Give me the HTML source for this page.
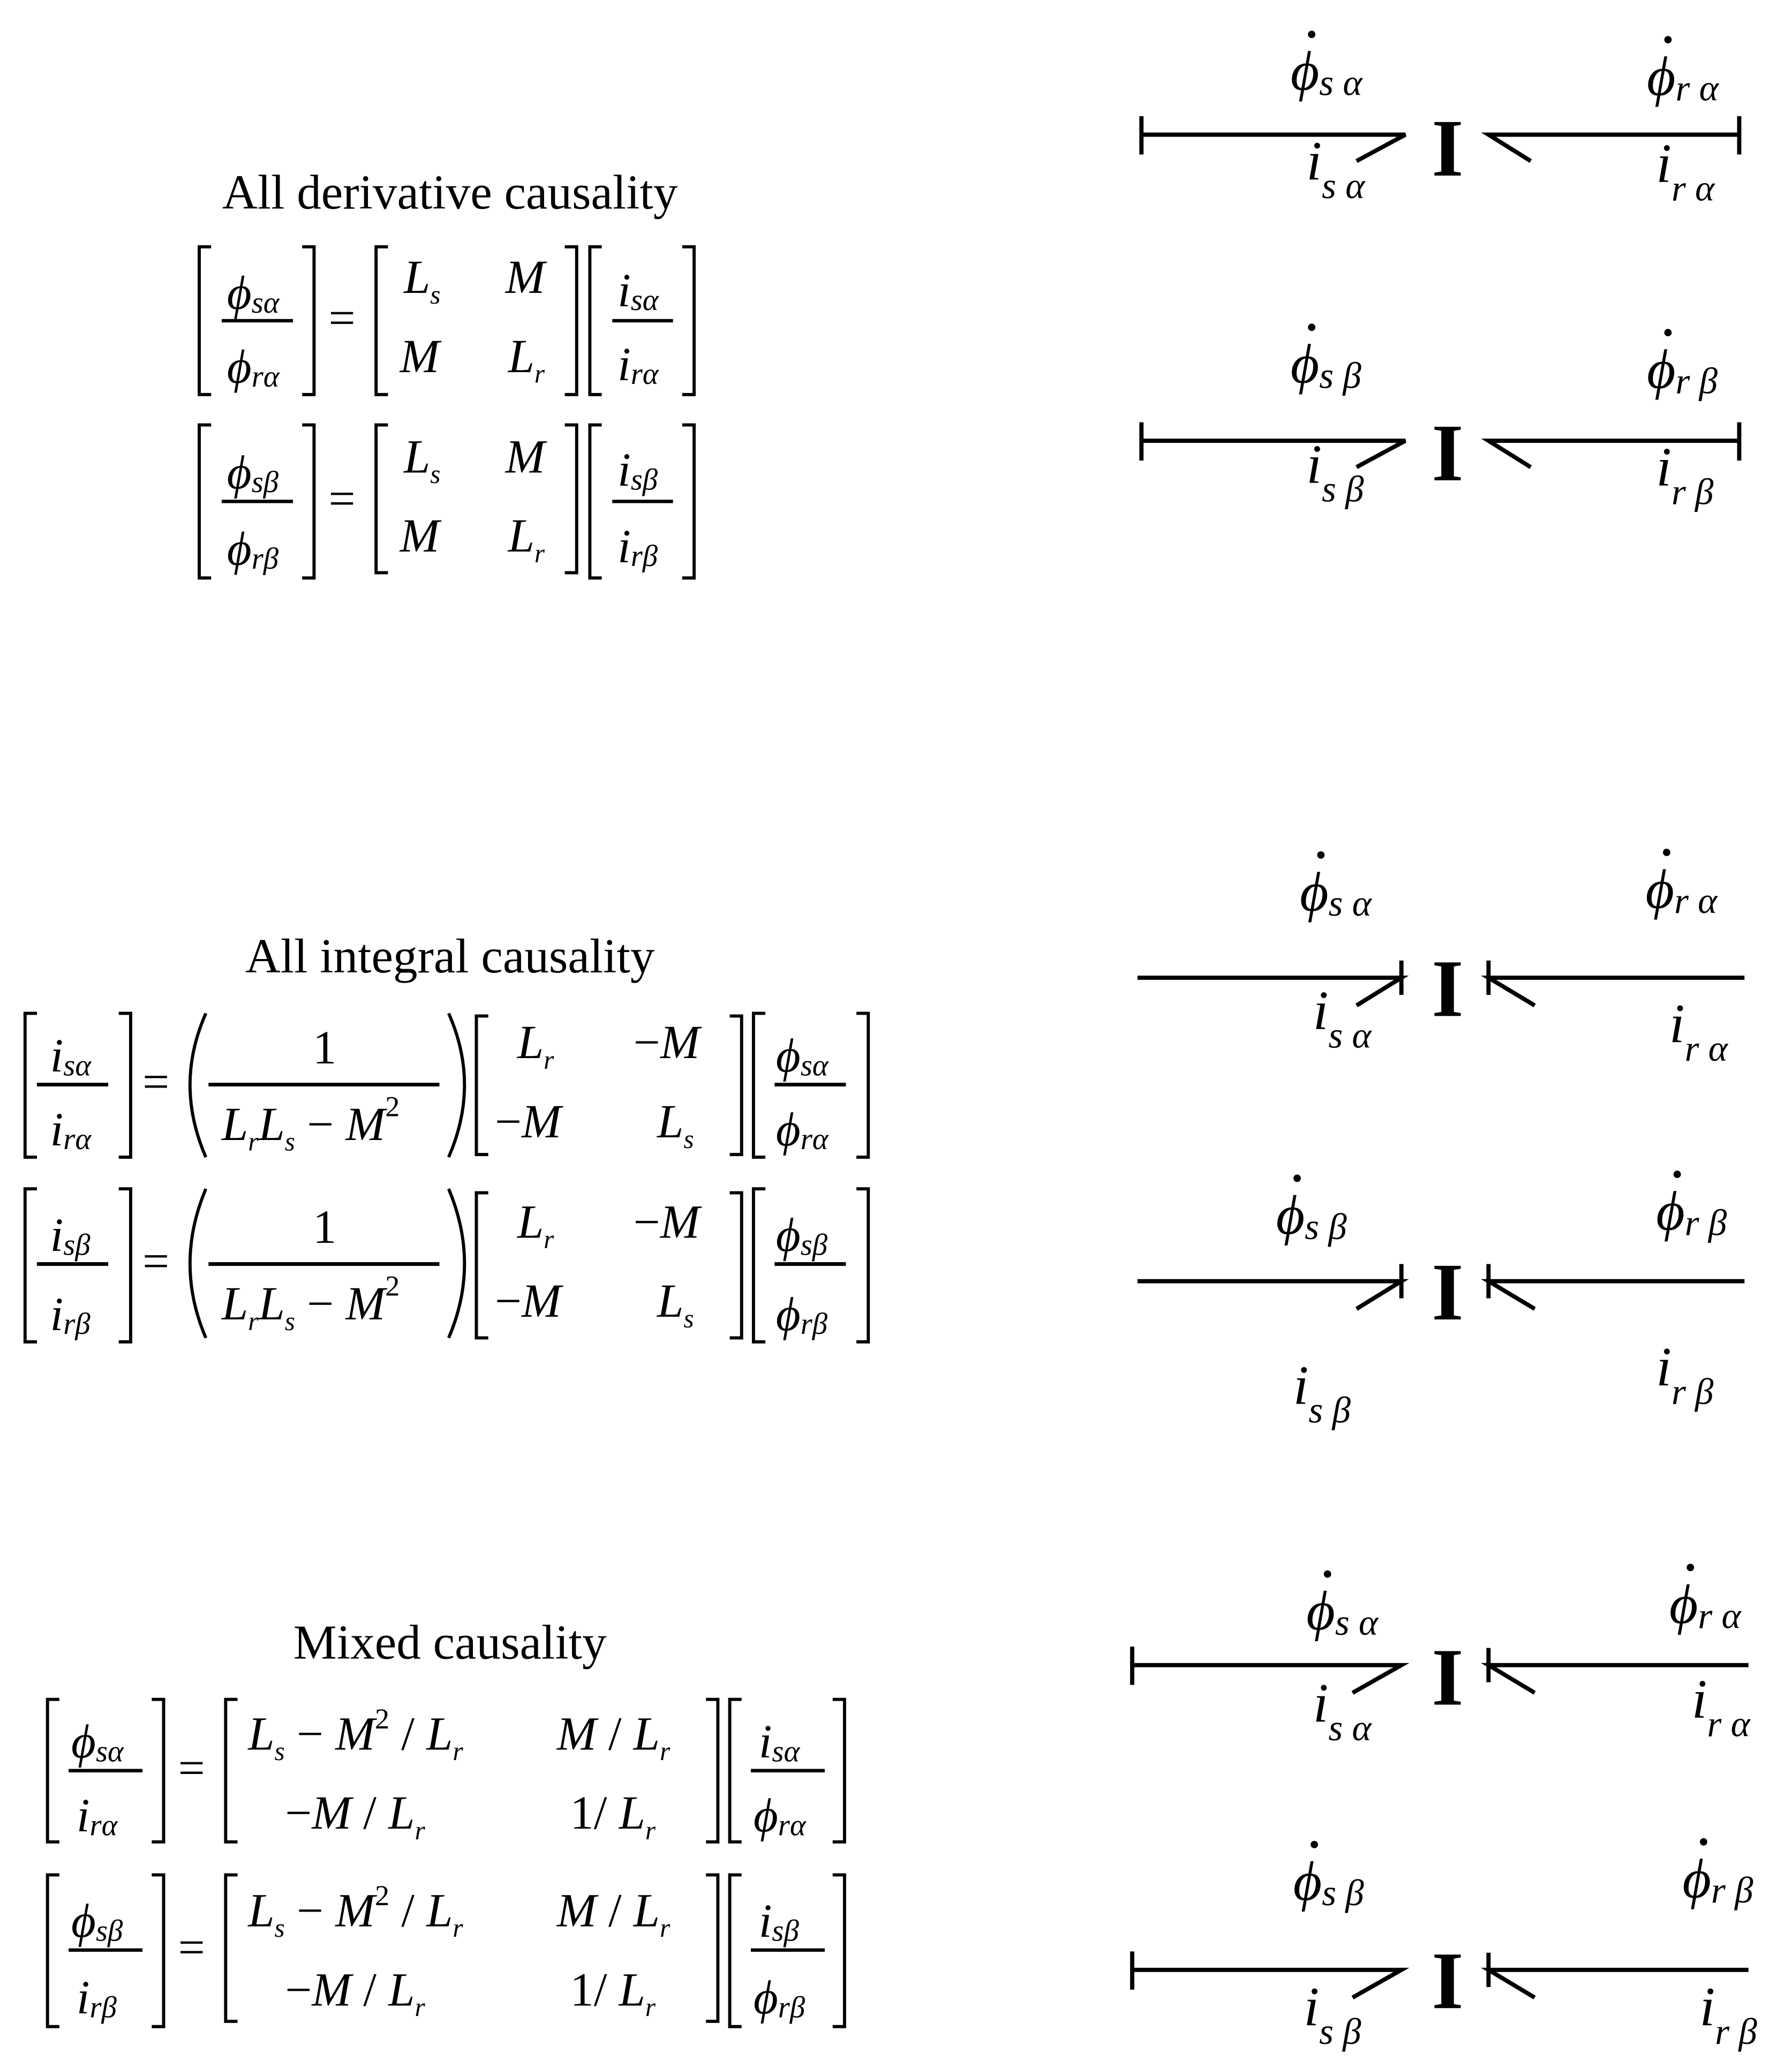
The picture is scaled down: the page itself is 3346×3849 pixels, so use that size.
<!DOCTYPE html>
<html><head><meta charset="utf-8"><style>
html,body{margin:0;padding:0;background:#fff}
svg{display:block}
text{font-family:"Liberation Serif",serif;fill:#000}
.i{font-style:italic}
</style></head><body>
<svg width="3346" height="3849" viewBox="0 0 1358 1562" xmlns="http://www.w3.org/2000/svg">
<g stroke="#000" fill="none" stroke-width="3.2">
<path d="M865 102H1065L1028 122M865 88V117"/>
<path d="M1318 102H1128L1160 122M1318 88V117"/>
<path d="M865 334H1065L1028 354M865 320V349"/>
<path d="M1318 334H1128L1160 354M1318 320V349"/>
<path d="M862 741H1062L1028 762M1062 728V754"/>
<path d="M1322 741H1128L1163 762M1128 728V754"/>
<path d="M862 971H1062L1028 992M1062 958V984"/>
<path d="M1322 971H1128L1163 992M1128 958V984"/>
<path d="M858 1262H1062L1025 1283M858 1248V1277"/>
<path d="M1325 1262H1128L1163 1283M1128 1249V1275"/>
<path d="M858 1493H1062L1025 1514M858 1479V1508"/>
<path d="M1325 1493H1128L1163 1514M1128 1480V1506"/>
</g>
<g font-size="62" font-weight="bold" text-anchor="middle">
<text x="1097" y="133">I</text>
<text x="1097" y="364">I</text>
<text x="1097" y="770">I</text>
<text x="1097" y="1000">I</text>
<text x="1097" y="1292">I</text>
<text x="1097" y="1522">I</text>
</g>
<g class="i" font-size="42">
<text x="978" y="68">ϕ<tspan font-size="28" dy="4">s α</tspan></text><circle cx="994" cy="26" r="2.8"/>
<text x="1248" y="72">ϕ<tspan font-size="28" dy="4">r α</tspan></text><circle cx="1264" cy="30" r="2.8"/>
<text x="990" y="136">i<tspan font-size="28" dy="14">s α</tspan></text>
<text x="1255" y="138">i<tspan font-size="28" dy="14">r α</tspan></text>

<text x="978" y="290">ϕ<tspan font-size="28" dy="4">s β</tspan></text><circle cx="994" cy="248" r="2.8"/>
<text x="1248" y="294">ϕ<tspan font-size="28" dy="4">r β</tspan></text><circle cx="1264" cy="252" r="2.8"/>
<text x="990" y="366">i<tspan font-size="28" dy="14">s β</tspan></text>
<text x="1255" y="368">i<tspan font-size="28" dy="14">r β</tspan></text>

<text x="985" y="690">ϕ<tspan font-size="28" dy="4">s α</tspan></text><circle cx="1001" cy="648" r="2.8"/>
<text x="1247" y="688">ϕ<tspan font-size="28" dy="4">r α</tspan></text><circle cx="1263" cy="646" r="2.8"/>
<text x="995" y="780">i<tspan font-size="28" dy="14">s α</tspan></text>
<text x="1265" y="790">i<tspan font-size="28" dy="14">r α</tspan></text>

<text x="967" y="935">ϕ<tspan font-size="28" dy="4">s β</tspan></text><circle cx="983" cy="893" r="2.8"/>
<text x="1255" y="932">ϕ<tspan font-size="28" dy="4">r β</tspan></text><circle cx="1271" cy="890" r="2.8"/>
<text x="980" y="1064">i<tspan font-size="28" dy="14">s β</tspan></text>
<text x="1255" y="1050">i<tspan font-size="28" dy="14">r β</tspan></text>

<text x="990" y="1235">ϕ<tspan font-size="28" dy="4">s α</tspan></text><circle cx="1006" cy="1193" r="2.8"/>
<text x="1265" y="1230">ϕ<tspan font-size="28" dy="4">r α</tspan></text><circle cx="1281" cy="1188" r="2.8"/>
<text x="995" y="1305">i<tspan font-size="28" dy="14">s α</tspan></text>
<text x="1282" y="1302">i<tspan font-size="28" dy="14">r α</tspan></text>

<text x="980" y="1440">ϕ<tspan font-size="28" dy="4">s β</tspan></text><circle cx="996" cy="1398" r="2.8"/>
<text x="1275" y="1438">ϕ<tspan font-size="28" dy="4">r β</tspan></text><circle cx="1291" cy="1396" r="2.8"/>
<text x="988" y="1535">i<tspan font-size="28" dy="14">s β</tspan></text>
<text x="1288" y="1535">i<tspan font-size="28" dy="14">r β</tspan></text>
</g>

<g font-size="37" text-anchor="middle">
<text x="341" y="158">All derivative causality</text>
<text x="341" y="737">All integral causality</text>
<text x="341" y="1257">Mixed causality</text>
</g>

<g stroke="#000" fill="none" stroke-width="2.4">
<path d="M160 187H151V299H160M229 187H238V299H229"/>
<path d="M294 187H285V299H294M428 187H437V299H428"/>
<path d="M456 187H447V299H456M517 187H526V299H517"/>
<path d="M168 243H222M464 243H510" stroke-width="2.6"/>
<path d="M160 322H151V438H160M229 322H238V438H229"/>
<path d="M294 322H285V434H294M428 322H437V434H428"/>
<path d="M456 322H447V438H456M517 322H526V438H517"/>
<path d="M168 380H222M464 380H510" stroke-width="2.6"/>
<path d="M28 768H19V877H28M90 768H99V877H90"/>
<path d="M156 768Q132 822 156 877M340 768Q364 822 340 877"/>
<path d="M370 770H361V875H370M553 770H562V875H553"/>
<path d="M580 768H571V877H580M649 768H658V877H649"/>
<path d="M28 822H82M158 822H333M587 822H641" stroke-width="2.8"/>
<path d="M28 901H19V1017H28M90 901H99V1017H90"/>
<path d="M156 901Q132 958 156 1014M340 901Q364 958 340 1014"/>
<path d="M370 904H361V1014H370M553 904H562V1014H553"/>
<path d="M580 901H571V1017H580M649 901H658V1017H649"/>
<path d="M28 958H82M158 958H333M587 958H641" stroke-width="2.8"/>
<path d="M45 1288H36V1396H45M115 1288H124V1396H115"/>
<path d="M180 1288H171V1396H180M535 1288H544V1396H535"/>
<path d="M562 1288H553V1396H562M631 1288H640V1396H631"/>
<path d="M52 1342H108M569 1342H625" stroke-width="2.6"/>
<path d="M45 1421H36V1536H45M115 1421H124V1536H115"/>
<path d="M180 1421H171V1532H180M535 1421H544V1532H535"/>
<path d="M562 1421H553V1536H562M631 1421H640V1536H631"/>
<path d="M52 1478H108M569 1478H625" stroke-width="2.6"/>
</g>

<g font-size="36">
<text x="249" y="253">=</text>
<text x="249" y="390">=</text>
<text x="108" y="832">=</text>
<text x="108" y="968">=</text>
<text x="135" y="1352">=</text>
<text x="135" y="1488">=</text>
</g>

<g class="i" font-size="36">
<text x="172" y="234">ϕ<tspan font-size="23" dy="3">sα</tspan></text>
<text x="172" y="290">ϕ<tspan font-size="23" dy="3">rα</tspan></text>
<text x="306" y="222">L<tspan font-size="20" dy="8">s</tspan></text>
<text x="383" y="222">M</text>
<text x="303" y="282">M</text>
<text x="385" y="282">L<tspan font-size="20" dy="8">r</tspan></text>
<text x="468" y="232">i<tspan font-size="23" dy="3">sα</tspan></text>
<text x="468" y="288">i<tspan font-size="23" dy="3">rα</tspan></text>
<text x="172" y="370">ϕ<tspan font-size="23" dy="3">sβ</tspan></text>
<text x="172" y="428">ϕ<tspan font-size="23" dy="3">rβ</tspan></text>
<text x="306" y="358">L<tspan font-size="20" dy="8">s</tspan></text>
<text x="383" y="358">M</text>
<text x="303" y="418">M</text>
<text x="385" y="418">L<tspan font-size="20" dy="8">r</tspan></text>
<text x="468" y="368">i<tspan font-size="23" dy="3">sβ</tspan></text>
<text x="468" y="426">i<tspan font-size="23" dy="3">rβ</tspan></text>
<text x="38" y="812">i<tspan font-size="23" dy="3">sα</tspan></text>
<text x="38" y="868">i<tspan font-size="23" dy="3">rα</tspan></text>
<text x="237" y="806" font-style="normal">1</text>
<text x="168" y="864">L<tspan font-size="20" dy="8">r</tspan><tspan dy="-8">L</tspan><tspan font-size="20" dy="8">s</tspan><tspan dy="-8" font-style="normal"> − </tspan><tspan>M</tspan><tspan font-size="22" dy="-18" font-style="normal">2</tspan></text>
<text x="392" y="802">L<tspan font-size="20" dy="8">r</tspan></text>
<text x="480" y="802"><tspan font-style="normal">−</tspan>M</text>
<text x="375" y="862"><tspan font-style="normal">−</tspan>M</text>
<text x="498" y="862">L<tspan font-size="20" dy="8">s</tspan></text>
<text x="588" y="812">ϕ<tspan font-size="23" dy="3">sα</tspan></text>
<text x="588" y="868">ϕ<tspan font-size="23" dy="3">rα</tspan></text>
<text x="38" y="948">i<tspan font-size="23" dy="3">sβ</tspan></text>
<text x="38" y="1008">i<tspan font-size="23" dy="3">rβ</tspan></text>
<text x="237" y="942" font-style="normal">1</text>
<text x="168" y="1000">L<tspan font-size="20" dy="8">r</tspan><tspan dy="-8">L</tspan><tspan font-size="20" dy="8">s</tspan><tspan dy="-8" font-style="normal"> − </tspan><tspan>M</tspan><tspan font-size="22" dy="-18" font-style="normal">2</tspan></text>
<text x="392" y="938">L<tspan font-size="20" dy="8">r</tspan></text>
<text x="480" y="938"><tspan font-style="normal">−</tspan>M</text>
<text x="375" y="998"><tspan font-style="normal">−</tspan>M</text>
<text x="498" y="998">L<tspan font-size="20" dy="8">s</tspan></text>
<text x="588" y="948">ϕ<tspan font-size="23" dy="3">sβ</tspan></text>
<text x="588" y="1008">ϕ<tspan font-size="23" dy="3">rβ</tspan></text>
<text x="54" y="1332">ϕ<tspan font-size="23" dy="3">sα</tspan></text>
<text x="58" y="1388">i<tspan font-size="23" dy="3">rα</tspan></text>
<text x="188" y="1326">L<tspan font-size="20" dy="8">s</tspan><tspan dy="-8" font-style="normal"> − </tspan>M<tspan font-size="22" dy="-16" font-style="normal">2</tspan><tspan dy="16" font-style="normal"> / </tspan>L<tspan font-size="20" dy="8">r</tspan></text>
<text x="422" y="1326">M<tspan font-style="normal"> / </tspan>L<tspan font-size="20" dy="8">r</tspan></text>
<text x="216" y="1386"><tspan font-style="normal">−</tspan>M<tspan font-style="normal"> / </tspan>L<tspan font-size="20" dy="8">r</tspan></text>
<text x="432" y="1386"><tspan font-style="normal">1/ </tspan>L<tspan font-size="20" dy="8">r</tspan></text>
<text x="575" y="1332">i<tspan font-size="23" dy="3">sα</tspan></text>
<text x="571" y="1388">ϕ<tspan font-size="23" dy="3">rα</tspan></text>
<text x="54" y="1468">ϕ<tspan font-size="23" dy="3">sβ</tspan></text>
<text x="58" y="1526">i<tspan font-size="23" dy="3">rβ</tspan></text>
<text x="188" y="1460">L<tspan font-size="20" dy="8">s</tspan><tspan dy="-8" font-style="normal"> − </tspan>M<tspan font-size="22" dy="-16" font-style="normal">2</tspan><tspan dy="16" font-style="normal"> / </tspan>L<tspan font-size="20" dy="8">r</tspan></text>
<text x="422" y="1460">M<tspan font-style="normal"> / </tspan>L<tspan font-size="20" dy="8">r</tspan></text>
<text x="216" y="1520"><tspan font-style="normal">−</tspan>M<tspan font-style="normal"> / </tspan>L<tspan font-size="20" dy="8">r</tspan></text>
<text x="432" y="1520"><tspan font-style="normal">1/ </tspan>L<tspan font-size="20" dy="8">r</tspan></text>
<text x="575" y="1468">i<tspan font-size="23" dy="3">sβ</tspan></text>
<text x="571" y="1526">ϕ<tspan font-size="23" dy="3">rβ</tspan></text>
</g>
</svg>
</body></html>
